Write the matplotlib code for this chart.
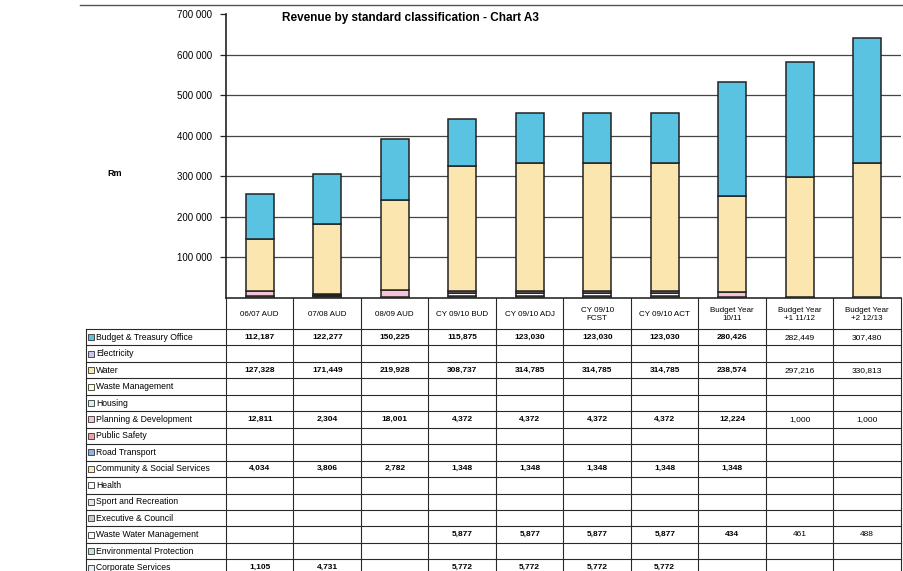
import matplotlib.pyplot as plt
import numpy as np

# 列（年度）と行（区分）
periods = ['06/07 AUD', '07/08 AUD', '08/09 AUD', 'CY 09/10 BUD', 'CY 09/10 ADJ',
           'CY 09/10\nFCST', 'CY 09/10 ACT', 'Budget Year\n10/11',
           'Budget Year\n+1 11/12', 'Budget Year\n+2 12/13']
categories = ['Budget & Treasury Office', 'Electricity', 'Water', 'Waste Management',
              'Housing', 'Planning & Development', 'Public Safety', 'Road Transport',
              'Community & Social Services', 'Health', 'Sport and Recreation',
              'Executive & Council', 'Waste Water Management',
              'Environmental Protection', 'Corporate Services']

# 値（R千）、空欄は None
budget_treasury = [112187, 122277, 150225, 115875, 123030, 123030, 123030, 280426, 282449, 307480]
electricity = [None] * 10
water = [127328, 171449, 219928, 308737, 314785, 314785, 314785, 238574, 297216, 330813]
waste_management = [None] * 10
housing = [None] * 10
planning = [12811, 2304, 18001, 4372, 4372, 4372, 4372, 12224, 1000, 1000]
public_safety = [None] * 10
road_transport = [None] * 10
community = [4034, 3806, 2782, 1348, 1348, 1348, 1348, 1348, None, None]
health = [None] * 10
sport = [None] * 10
executive = [None] * 10
waste_water = [None, None, None, 5877, 5877, 5877, 5877, 434, 461, 488]
environmental = [None] * 10
corporate = [1105, 4731, None, 5772, 5772, 5772, 5772, None, None, None]

series = [budget_treasury, electricity, water, waste_management, housing, planning,
          public_safety, road_transport, community, health, sport, executive,
          waste_water, environmental, corporate]
colors = ['#5BC3E2', '#C6C6F0', '#FAE6AE', '#FFFFD0', '#D0F4F4', '#F5C3D6',
          '#F4A0A0', '#8FB4E0', '#FBEAB8', '#FFFFFF', '#E8E8E8', '#CCCCCC',
          '#FFFFFF', '#BFE8D0', '#E0F0F8']

plt.rcParams['font.family'] = ['Liberation Sans', 'DejaVu Sans']

W, H = 904, 571
fig = plt.figure(figsize=(W / 100, H / 100), dpi=100)

# 棒グラフ部分（ピクセル位置で配置）
x0, x1, ytop, ybase = 226, 901, 14, 298
ax = fig.add_axes([x0 / W, 1 - ybase / H, (x1 - x0) / W, (ybase - ytop) / H])
x = np.arange(len(periods))
bottom = np.zeros(len(periods))
# 表の下の行から順に積み上げる
for vals, c in zip(series[::-1], colors[::-1]):
    v = np.array([0 if a is None else a for a in vals], dtype=float)
    if v.sum() == 0:
        continue
    ax.bar(x, v, bottom=bottom, width=0.42, color=c, edgecolor='#222222',
           linewidth=1.1, zorder=3)
    bottom += v

ax.set_xlim(-0.5, len(periods) - 0.5)
ax.set_ylim(0, 700000)
ticks = np.arange(100000, 700001, 100000)
ax.set_yticks(ticks)
ax.set_yticklabels(['{:,}'.format(t).replace(',', ' ') for t in ticks], fontsize=7)
for t in ticks[:-1]:
    ax.axhline(t, color='#444444', lw=0.9, zorder=1)
ax.set_xticks([])
for s in ['top', 'right', 'bottom']:
    ax.spines[s].set_visible(False)
ax.spines['left'].set_color('#222222')
ax.spines['left'].set_linewidth(1.2)
ax.tick_params(axis='y', length=4, width=0.9, color='#222222', pad=6)

fig.text(282 / W, 1 - 18 / H, 'Revenue by standard classification - Chart A3',
         fontsize=8.5, fontweight='bold', va='center', ha='left')
fig.text(115 / W, 1 - 173 / H, 'Rm', fontsize=6.5, fontweight='bold',
         va='center', ha='center')

# データ表（ピクセル座標の重ね合わせ軸）
tb = fig.add_axes([0, 0, 1, 1], zorder=5)
tb.set_xlim(0, W)
tb.set_ylim(H, 0)
tb.axis('off')

lc, lw = '#2a2a2a', 0.8
colw = (x1 - x0) / len(periods)
hdr_bot = 329
rowh = 16.45
nrows = len(categories) + 2

tb.plot([80, W], [5, 5], color='#555555', lw=1.0)
tb.plot([x0, x1], [ybase, ybase], color=lc, lw=1.2)
for i in range(len(periods) + 1):
    tb.plot([x0 + i * colw] * 2, [ybase, hdr_bot + nrows * rowh], color=lc, lw=lw)
tb.plot([86, 86], [hdr_bot, hdr_bot + nrows * rowh], color=lc, lw=lw)
for r in range(nrows + 1):
    y = hdr_bot + r * rowh
    tb.plot([86, x1], [y, y], color=lc, lw=lw)

for i, p in enumerate(periods):
    tb.text(x0 + (i + 0.5) * colw, (ybase + hdr_bot) / 2 + 1, p, fontsize=5.8,
            ha='center', va='center', linespacing=1.0)

for r, (name, vals, c) in enumerate(zip(categories, series, colors)):
    yc = hdr_bot + (r + 0.5) * rowh
    tb.add_patch(plt.Rectangle((88, yc - 3), 6, 6, facecolor=c,
                               edgecolor='#333333', lw=0.6))
    tb.text(96, yc, name, fontsize=6.2, ha='left', va='center')
    for i, v in enumerate(vals):
        if v is not None:
            tb.text(x0 + (i + 0.5) * colw, yc, '{:,}'.format(v), fontsize=6,
                    ha='center', va='center',
                    fontweight='normal' if i >= 8 else 'bold')

fig.savefig('out.png', dpi=100)
